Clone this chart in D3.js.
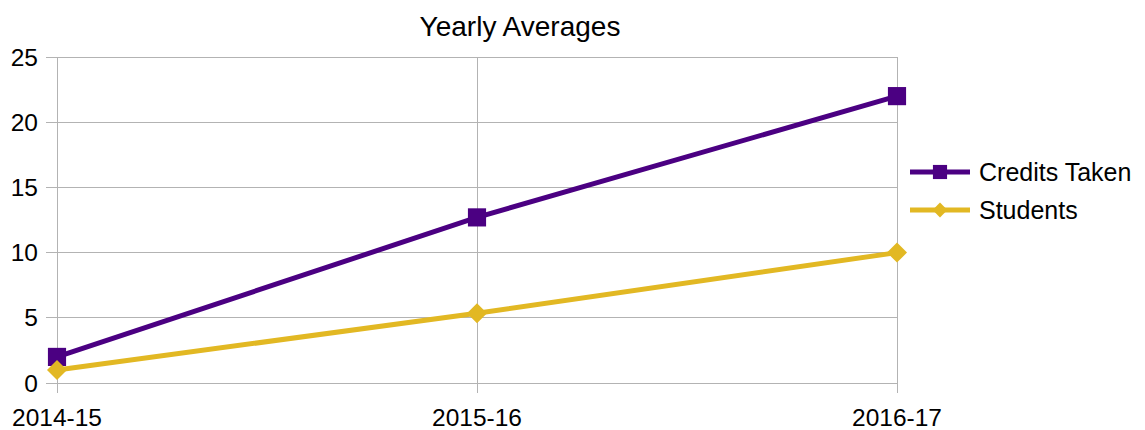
<!DOCTYPE html>
<html><head><meta charset="utf-8">
<script src="https://cdn.jsdelivr.net/npm/d3@7"></script>
<style>body{margin:0;background:#fff}svg{display:block}text{font-family:"Liberation Sans",Arial,sans-serif;fill:#000}</style>
</head><body>
<script>
const categories = ["2014-15", "2015-16", "2016-17"];
const creditsTaken = [2, 12.7, 22];
const students = [1, 5.35, 10];
const yTicks = [0, 5, 10, 15, 20, 25];
const seriesNames = ["Credits Taken", "Students"];

const W = 1145, H = 430;
const m = {left: 57, right: 248, top: 57, bottom: 47};
const svg = d3.select("body").append("svg").attr("width", W).attr("height", H);

const x = d3.scalePoint().domain(categories).range([m.left, W - m.right]);
const y = d3.scaleLinear().domain([0, 25]).range([H - m.bottom, m.top]);
const grid = "#b3b3b3";

svg.append("g").selectAll("line").data(yTicks).join("line")
  .attr("x1", m.left - 11).attr("x2", W - m.right)
  .attr("y1", d => y(d)).attr("y2", d => y(d))
  .attr("stroke", grid).attr("stroke-width", 1).attr("shape-rendering", "crispEdges");
svg.append("g").selectAll("line").data(categories).join("line")
  .attr("x1", d => x(d)).attr("x2", d => x(d))
  .attr("y1", m.top).attr("y2", H - m.bottom + 10)
  .attr("stroke", grid).attr("stroke-width", 1).attr("shape-rendering", "crispEdges");

svg.append("g").selectAll("text").data(yTicks).join("text")
  .attr("x", 38).attr("y", d => y(d)).attr("dy", "0.35em")
  .attr("text-anchor", "end").attr("font-size", 24.5).text(d => d);
svg.append("g").selectAll("text").data(categories).join("text")
  .attr("x", d => x(d)).attr("y", 426)
  .attr("text-anchor", "middle").attr("font-size", 24.5).text(d => d);

svg.append("text").attr("x", 520).attr("y", 26).attr("dy", "0.35em")
  .attr("text-anchor", "middle").attr("font-size", 28).text("Yearly Averages");

const colors = ["#4b0082", "#e2b823"];
const data = [creditsTaken, students];
const line = d3.line().x((d, i) => x(categories[i])).y(d => y(d));
const sq = d3.symbol(d3.symbolSquare, 330);
const dia = d3.symbol(d3.symbolSquare, 200);

data.forEach((s, k) => {
  svg.append("path").datum(s).attr("d", line).attr("fill", "none")
    .attr("stroke", colors[k]).attr("stroke-width", 5).attr("stroke-linejoin", "round");
});
data.forEach((s, k) => {
  svg.append("g").selectAll("path").data(s).join("path")
    .attr("transform", (d, i) => `translate(${x(categories[i])},${y(d)})` + (k === 1 ? " rotate(45)" : ""))
    .attr("d", k === 0 ? sq : dia).attr("fill", colors[k]);
});

const lg = svg.append("g");
seriesNames.forEach((n, k) => {
  const ly = 172 + k * 38;
  lg.append("line").attr("x1", 910).attr("x2", 970).attr("y1", ly).attr("y2", ly)
    .attr("stroke", colors[k]).attr("stroke-width", 5);
  lg.append("path").attr("transform", `translate(940,${ly})` + (k === 1 ? " rotate(45)" : ""))
    .attr("d", d3.symbol(d3.symbolSquare, k === 0 ? 200 : 110)).attr("fill", colors[k]);
  lg.append("text").attr("x", 979).attr("y", ly).attr("dy", "0.35em")
    .attr("font-size", 25).text(n);
});
</script>
</body></html>
